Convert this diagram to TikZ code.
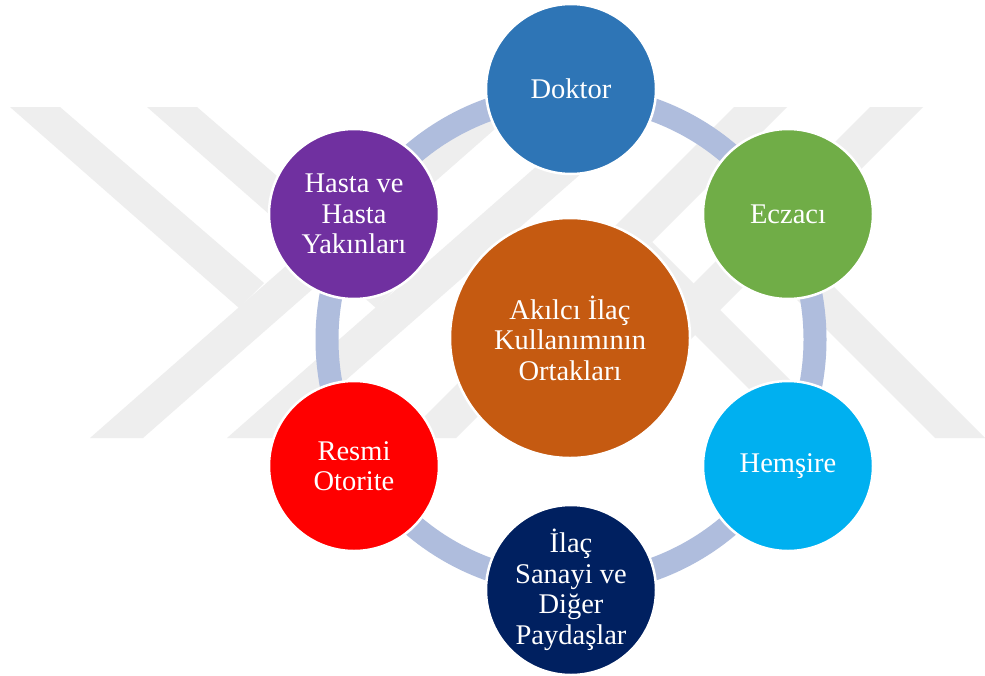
\documentclass[tikz,border=0pt]{standalone}
\usepackage{fontspec}
\setmainfont{Liberation Serif}
\definecolor{wmgray}{HTML}{EEEEEE}
\definecolor{ringblue}{HTML}{AFBDDD}
\definecolor{cdoktor}{HTML}{2E75B6}
\definecolor{ceczaci}{HTML}{70AD47}
\definecolor{chemsire}{HTML}{00B0F0}
\definecolor{csanayi}{HTML}{002060}
\definecolor{cresmi}{HTML}{FF0000}
\definecolor{chasta}{HTML}{7030A0}
\definecolor{cmerkez}{HTML}{C55A11}
\begin{document}
\begin{tikzpicture}[x=1pt,y=-1pt,
  wmband/.style={fill=wmgray,draw=none},
  ring/.style={draw=ringblue,line width=23pt},
  partner/.style={circle,draw=white,line width=2.5pt,minimum size=170pt,
    inner sep=0pt,text=white,align=center,
    font=\fontsize{28.5}{30.5}\selectfont},
  hubnode/.style={partner,minimum size=240pt}]
\useasboundingbox (0,0) rectangle (985,675);
\fill[white] (0,0) rectangle (985,675);

% faint background logo: two bent strokes on the left, two turned round on the right
\fill[wmband] (10,107) -- (60,107) -- (264,283) -- (239,308) -- cycle;
\fill[wmband] (90,438) -- (143,438) -- (520,107) -- (467,107) -- cycle;
\fill[wmband] (147,107) -- (197,107) -- (401,283) -- (376,308) -- cycle;
\fill[wmband] (227,438) -- (280,438) -- (657,107) -- (604,107) -- cycle;
\fill[wmband] (870,107) -- (923,107) -- (592,438) -- (539,438) -- cycle;
\fill[wmband] (935,438) -- (985,438) -- (788.5,241.5) -- (763.5,266.5) -- cycle;
\fill[wmband] (734,107) -- (787,107) -- (456,438) -- (403,438) -- cycle;
\fill[wmband] (798,438) -- (848,438) -- (652,242) -- (627,267) -- cycle;

% ring linking the partners
\coordinate (hub) at (571,339.5);
\draw[ring] (hub) circle[radius=244];

% partners
\node[partner,fill=cdoktor]  (doktor)  at (571,89)  {Doktor};
\node[partner,fill=ceczaci]  (eczaci)  at (788,214) {Eczacı};
\node[partner,fill=chemsire] (hemsire) at (788,466) {Hemşire};
\node[partner,fill=csanayi]  (sanayi)  at (571,590) {İlaç\\Sanayi ve\\Diğer\\Paydaşlar};
\node[partner,fill=cresmi]   (resmi)   at (354,466) {Resmi\\Otorite};
\node[partner,fill=chasta]   (hasta)   at (354,214) {Hasta ve\\Hasta\\Yakınları};

% centre
\node[hubnode,fill=cmerkez] (merkez) at (570,338) {Akılcı İlaç\\Kullanımının\\Ortakları};
\end{tikzpicture}
\end{document}
